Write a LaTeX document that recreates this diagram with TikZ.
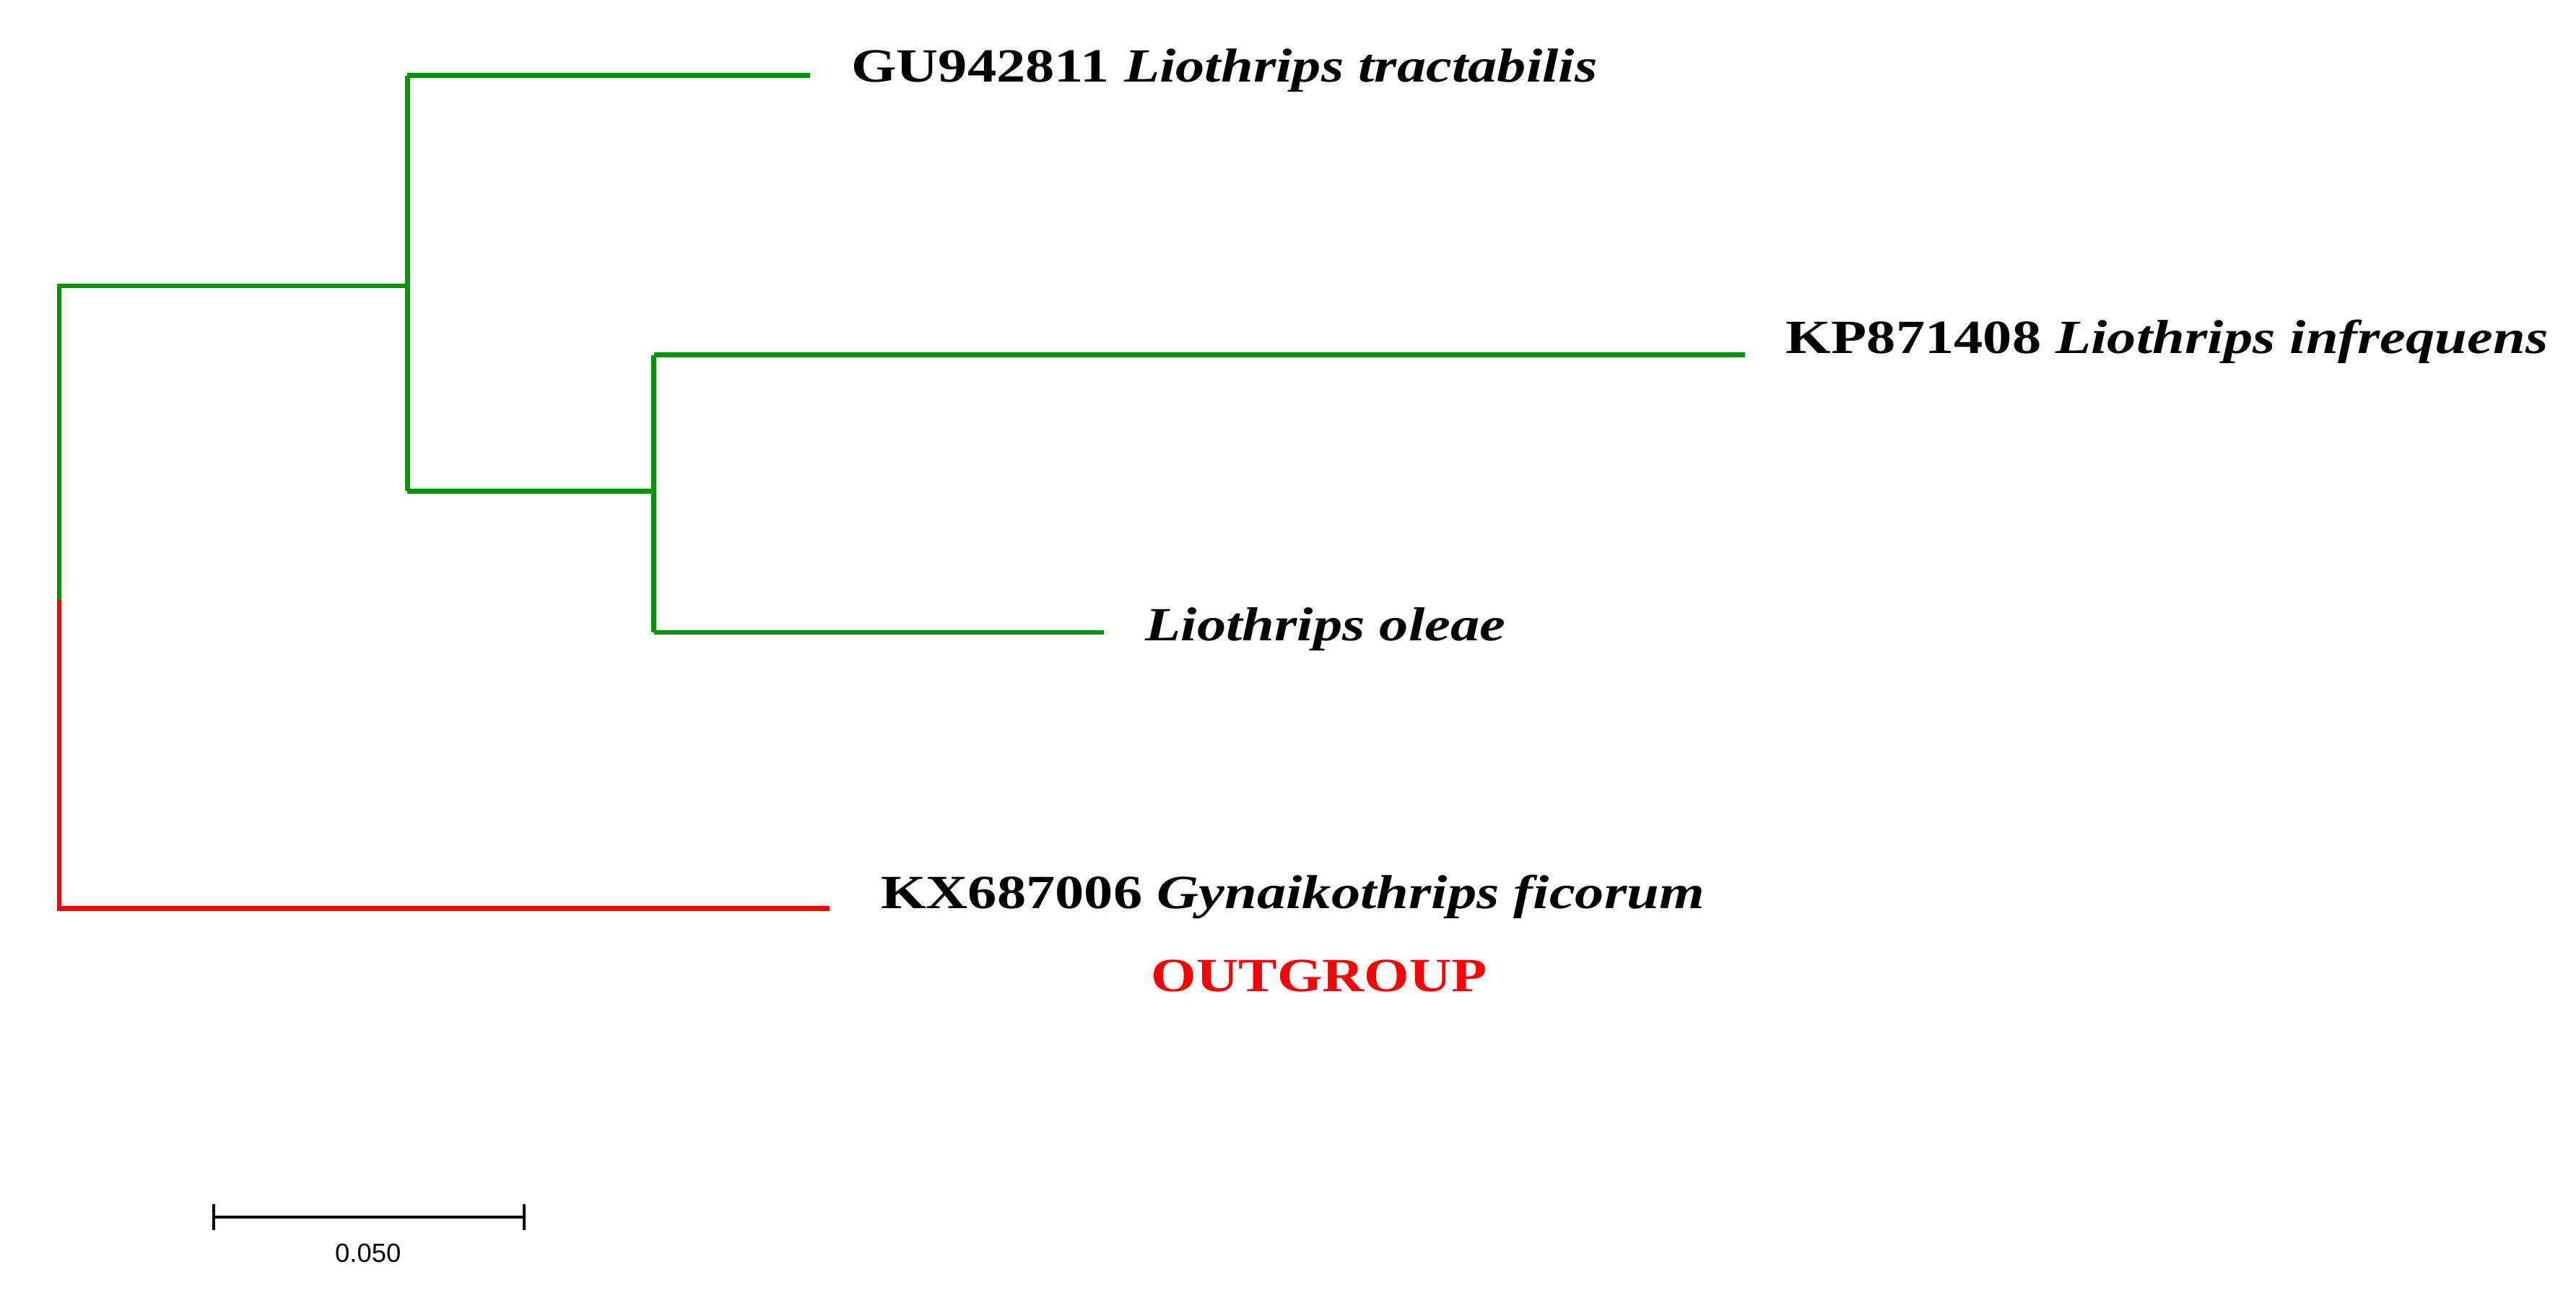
\documentclass[tikz,border=0pt]{standalone}
\usepackage{fontspec}
\setmainfont{Liberation Serif}[FakeStretch=1.22]
\newfontfamily\sansf{Liberation Sans}
\definecolor{tg}{RGB}{0,150,0}
\definecolor{tr}{RGB}{255,0,0}
\begin{document}
\begin{tikzpicture}[x=1pt,y=-1pt,
  br/.style={line width=2.8pt,tg},
  lab/.style={anchor=west,inner sep=0pt,font=\fontsize{29}{31}\selectfont\bfseries}]
\useasboundingbox (0,0) rectangle (1568,793);
\coordinate (r1) at (36,174); \coordinate (rm) at (36,365); \coordinate (r2) at (36,553);
\coordinate (a) at (248,174); \coordinate (a1) at (248,46); \coordinate (a2) at (248,299);
\coordinate (b) at (398,299); \coordinate (b1) at (398,216); \coordinate (b2) at (398,385);
\coordinate (gu) at (493,46); \coordinate (kp) at (1062,216); \coordinate (ol) at (672,385); \coordinate (kx) at (505,553);
\draw[br] (rm) -- (r1) -- (a);
\draw[br] (a1) -- (a2);
\draw[br] (a1) -- (gu);
\draw[br] (a2) -- (b);
\draw[br] (b1) -- (b2);
\draw[br] (b1) -- (kp);
\draw[br] (b2) -- (ol);
\draw[line width=2.8pt,tr] (rm) -- (r2) -- (kx);
\node[lab] (tgu) at (518,43) {GU942811 \textit{Liothrips tractabilis}};
\node[lab] (tkp) at (1087,208) {KP871408 \textit{Liothrips infrequens}};
\node[lab] (tol) at (697,383) {\textit{Liothrips oleae}};
\node[lab] (tkx) at (536,546) {KX687006 \textit{Gynaikothrips ficorum}};
\node[font=\fontsize{29}{31}\selectfont\bfseries,text=tr,inner sep=0pt] (og) at (803,594) {OUTGROUP};
\coordinate (s1) at (130,741); \coordinate (s2) at (319,741);
\draw[line width=1.5pt] (s1) -- (s2);
\draw[line width=1.5pt] (130,733) -- (130,749);
\draw[line width=1.5pt] (319,733) -- (319,749);
\node[font=\sansf\fontsize{16}{18}\selectfont,inner sep=0pt] (sl) at (224,763) {0.050};
\end{tikzpicture}
\end{document}
